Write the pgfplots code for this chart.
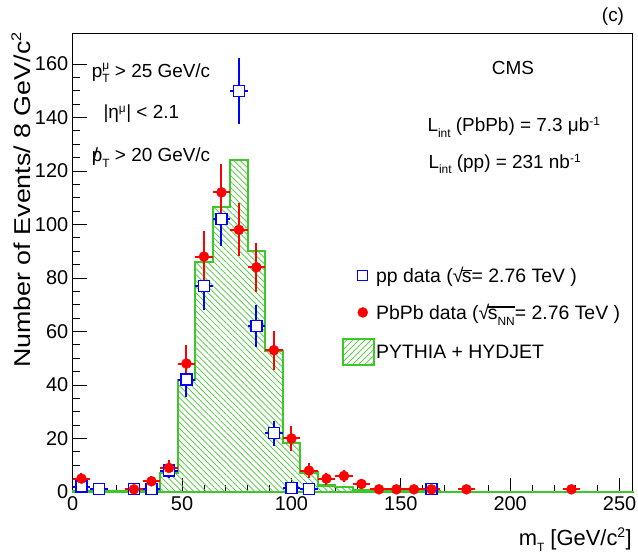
\documentclass[border=0pt]{standalone}
\usepackage{fontspec}
\setmainfont{Liberation Sans}
\usepackage{pgfplots}
\pgfplotsset{compat=1.18}
\usetikzlibrary{patterns.meta}
\definecolor{hgreen}{RGB}{70,200,50}
\definecolor{ogreen}{RGB}{60,200,40}
\newcommand\rt[1]{√\kern-0.08em\vbox{\hrule height 0.07em \kern 0.06em \hbox{#1}}}
\newcommand\subsup[2]{\rlap{\raisebox{0.75ex}{\fontsize{12}{12}\selectfont #2}}\raisebox{-0.55ex}{\fontsize{12}{12}\selectfont #1}}
\pgfplotsset{
  singlemark/.style={legend image code/.code={\draw[##1] plot coordinates {(17bp,0bp)};}},
  hatchbox/.style={legend image code/.code={\draw[draw=ogreen, line width=2.2bp,
    pattern={Lines[angle=45,distance=4.3bp,line width=0.7bp]}, pattern color=hgreen]
    (-3bp,-13bp) rectangle (28bp,13bp);}},
}
\begin{document}
\begin{tikzpicture}
\useasboundingbox (0,0) rectangle (638bp,559bp);
\begin{axis}[
  at={(72.7bp,67bp)}, anchor=south west,
  scale only axis, width=560bp, height=458bp,
  xmin=0, xmax=256, ymin=0, ymax=171.2,
  xtick={0,50,...,250}, minor x tick num=4,
  ytick={0,20,...,160}, minor y tick num=3,
  tick pos=left, tick align=inside,
  major tick length=14bp, minor tick length=7bp,
  tick style={black, line width=0.9bp},
  axis line style={black, line width=1bp},
  /pgf/number format/assume math mode=true,
  ticklabel style={font=\fontsize{20}{24}\selectfont},
  xticklabel style={yshift=-1bp},
  yticklabel style={xshift=-1bp},
  clip=false,
  legend style={at={(rel axis cs:0.476,0.5)}, anchor=north west, draw=none, fill=none,
    font=\fontsize{19.5}{23}\selectfont, row sep=16bp},
  legend cell align=left,
]
% Histogram PYTHIA + HYDJET (bin left edge, height)
\addplot[const plot mark left, draw=ogreen, line width=2.2bp,
  pattern={Lines[angle=-45,distance=4.3bp,line width=0.7bp]}, pattern color=hgreen,
  forget plot]
  table {
x y
0 0.5
8 0.3
16 0.2
24 0.3
32 0.8
40 7
48 42
56 86
64 106.4
72 124
80 90
88 52.8
96 18.2
104 7.3
112 2.4
120 1.8
128 0.7
136 0.4
144 0.3
152 0.2
160 0.2
168 0.1
176 0.1
184 0.1
192 0.1
200 0.1
208 0.1
216 0.1
224 0.1
232 0.1
240 0.1
248 0.1
256 0.1
} \closedcycle;
% pp data
\addplot[only marks, mark=square*, mark size=5.5bp, blue,
  mark options={fill=white, draw=blue, line width=1.3bp},
  error bars/.cd, x dir=both, x explicit, y dir=both, y explicit,
  error mark=none, error bar style={blue, line width=2bp}, /pgfplots/forget plot]
  table[x=x, y=y, x error=ex, y error=ey] {
x y ex ey
4 2 4 1.4
12 1 4 1
28 1 4 1
36 1 4 1
44 8 4 2.8
52 42 4 6.5
60 77 4 8.8
68 102 4 10
76 150 4 12.3
84 62 4 7.8
92 22 4 4.7
100 1.5 4 1.2
108 1 4 1
164 1 4 1
};
% PbPb data
\addplot[only marks, mark=*, mark size=5bp, red,
  error bars/.cd, x dir=both, x explicit, y dir=both, y explicit,
  error mark=none, error bar style={red, line width=2bp}, /pgfplots/forget plot]
  table[x=x, y=y, x error=ex, y error=ey] {
x y ex ey
4 5 4 2.2
28 1 4 1
36 4 4 2
44 9 4 3
52 48 4 6.9
60 88 4 9.4
68 112 4 10.6
76 98 4 9.9
84 84 4 9.2
92 53 4 7.3
100 20 4 4.5
108 8 4 2.8
116 5 4 2.2
124 6 4 2.4
132 3 4 1.7
140 1 4 1
148 1 4 1
156 1 4 1
164 1 4 1
180 1 4 1
228 1 4 1
};
\addlegendimage{only marks, mark=square, mark size=5bp, blue, line width=1.2bp, singlemark}
\addlegendentry{pp data (\rt{s}= 2.76 TeV )}
\addlegendimage{only marks, mark=*, mark size=5bp, red, singlemark}
\addlegendentry{PbPb data (\rt{s\subsup{NN}{}}= 2.76 TeV )}
\addlegendimage{hatchbox}
\addlegendentry{PYTHIA + HYDJET}
\end{axis}
% Annotations (image px -> bp, y flipped)
\begin{scope}[every node/.style={inner sep=0pt, font=\fontsize{19}{23}\selectfont}]
\node[anchor=base west] at (91.7bp,481.7bp) {p\subsup{T}{μ} > 25 GeV/c};
\node[anchor=base west] at (103.3bp,440.7bp) {|η\textsuperscript{\fontsize{12}{12}\selectfont μ}| < 2.1};
\node[anchor=base west] at (91.7bp,397.3bp) {\rlap{\kern0.05em/}p\subsup{T}{} > 20 GeV/c};
\node[anchor=base] at (513bp,484bp) {CMS};
\node[anchor=base west] at (427.3bp,427.3bp) {L\subsup{int}{} (PbPb) = 7.3 μb\textsuperscript{\fontsize{12}{12}\selectfont -1}};
\node[anchor=base west] at (428.3bp,390.7bp) {L\subsup{int}{} (pp) = 231 nb\textsuperscript{\fontsize{12}{12}\selectfont -1}};
\node[anchor=base] at (613bp,537bp) {(c)};
\node[anchor=base east, font=\fontsize{22}{26}\selectfont] at (632bp,14bp) {m\subsup{T}{} [GeV/c\textsuperscript{\fontsize{14}{14}\selectfont 2}]};
\node[anchor=base west, rotate=90, font=\fontsize{23}{27}\selectfont] at (30bp,191bp) {\scalebox{1.17}[1]{Number of Events/ 8 GeV/c\textsuperscript{\fontsize{14}{14}\selectfont 2}}};
\end{scope}
\end{tikzpicture}
\end{document}
